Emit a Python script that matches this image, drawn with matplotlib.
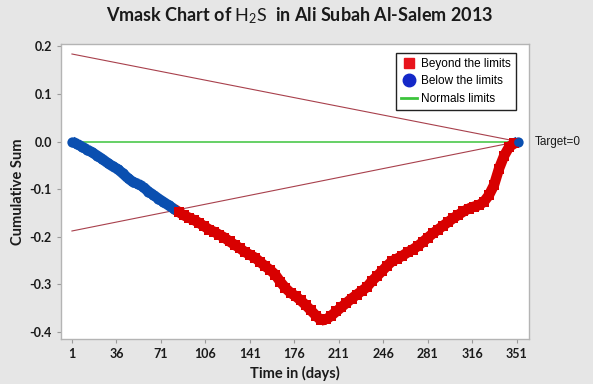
import numpy as np
import matplotlib
matplotlib.use("Agg")
import matplotlib.pyplot as plt
from matplotlib.lines import Line2D
import matplotlib.transforms as mtransforms

# cumulative sum (day, value)
days = [1, 5, 9, 13, 17, 21, 25, 29, 33, 37, 41, 45, 49, 53, 57, 61, 65, 69,
        73, 77, 81, 85, 89, 93, 97, 101, 105, 109, 113, 117, 121, 125, 129,
        133, 137, 141, 145, 149, 153, 157, 161, 165, 169, 173, 177, 181, 185,
        189, 193, 197, 201, 205, 209, 213, 217, 221, 225, 229, 233, 237, 241,
        245, 249, 253, 257, 261, 265, 269, 273, 277, 281, 285, 289, 293, 297,
        301, 305, 309, 313, 317, 321, 325, 329, 333, 337, 341, 345, 349, 352]
cusum = [0.000, -0.005, -0.011, -0.017, -0.023, -0.030, -0.037, -0.045,
         -0.052, -0.058, -0.067, -0.077, -0.085, -0.089, -0.095, -0.105,
         -0.112, -0.120, -0.127, -0.134, -0.141, -0.148, -0.155, -0.160,
         -0.165, -0.171, -0.178, -0.185, -0.190, -0.196, -0.202, -0.210,
         -0.217, -0.224, -0.232, -0.238, -0.244, -0.253, -0.262, -0.270,
         -0.280, -0.295, -0.308, -0.318, -0.325, -0.334, -0.344, -0.355,
         -0.366, -0.376, -0.374, -0.366, -0.357, -0.348, -0.339, -0.330,
         -0.322, -0.314, -0.306, -0.293, -0.283, -0.272, -0.261, -0.251,
         -0.246, -0.240, -0.233, -0.227, -0.220, -0.211, -0.202, -0.193,
         -0.185, -0.177, -0.169, -0.161, -0.154, -0.147, -0.141, -0.137,
         -0.134, -0.127, -0.113, -0.092, -0.057, -0.030, -0.011, -0.004, 0.000]

# V-mask arms: start value at day 1, vertex at last day
mask_days = [1, 352]
upper_arm = [0.184, 0.0]
lower_arm = [-0.188, 0.0]
target = 0.0

xticks = [1, 36, 71, 106, 141, 176, 211, 246, 281, 316, 351]
yticks = [0.2, 0.1, 0.0, -0.1, -0.2, -0.3, -0.4]

blue = "#0a4fb0"
red = "#d80000"
arm_col = "#a8404c"
green = "#3cc43c"
bg = "#e6e6e6"

plt.rcParams["mathtext.fontset"] = "custom"
plt.rcParams["mathtext.rm"] = "Lato"

fig = plt.figure(figsize=(5.93, 3.84), dpi=100, facecolor=bg)
ax = fig.add_axes([0.1029, 0.1172, 0.7892, 0.7682])
ax.set_facecolor("white")

d = np.array(days)
v = np.array(cusum)
low = np.interp(d, mask_days, lower_arm)
beyond = v < low - 1e-9

ax.plot(mask_days, [target, target], color=green, lw=1.1, zorder=2)
ax.plot(mask_days, upper_arm, color=arm_col, lw=0.8, zorder=2)
ax.plot(mask_days, lower_arm, color=arm_col, lw=0.8, zorder=2)

# continuous thick stroke, coloured by segment
for i in range(len(d) - 1):
    c = red if beyond[i + 1] else blue
    ax.plot(d[i:i + 2], v[i:i + 2], color=c, lw=7.5, solid_capstyle="butt", zorder=3)
ax.scatter(d[~beyond], v[~beyond], marker="o", s=55, color=blue, lw=0, zorder=4)
ax.scatter(d[beyond], v[beyond], marker="s", s=55, color=red, lw=0, zorder=4)
ax.scatter(d[-1:], v[-1:], marker="o", s=40, color=blue, lw=0, zorder=5)

ax.set_xlim(-7.6, 360.6)
ax.set_ylim(-0.415, 0.205)
ax.set_xticks(xticks)
ax.set_yticks(yticks)
ax.set_yticklabels([f"{t:.1f}" for t in yticks])
for s in ax.spines.values():
    s.set_color("#b4b4b4")
    s.set_linewidth(1.0)
ax.tick_params(axis="both", colors="#9a9a9a", length=3, width=0.8,
               labelcolor="#1a1a1a", labelsize=9)
for lab in ax.get_xticklabels() + ax.get_yticklabels():
    lab.set_fontfamily("Lato")
    lab.set_fontweight("bold")

ax.set_xlabel("Time in (days)", fontfamily="Lato", fontweight="bold",
              fontsize=10.5, color="#1a1a1a", labelpad=4)
ax.set_ylabel("Cumulative Sum", fontfamily="Lato", fontweight="bold",
              fontsize=10.5, color="#1a1a1a", labelpad=3)

fig.text(0.505, 0.958, r"Vmask Chart of $\mathrm{H_2S}$  in Ali Subah Al-Salem 2013",
         ha="center", va="center", fontfamily="Lato", fontweight="bold",
         fontsize=13, color="#1a1a1a")

trans = mtransforms.blended_transform_factory(ax.transAxes, ax.transData)
ax.text(1.013, target, "Target=0", transform=trans, ha="left", va="center",
        fontfamily="Liberation Sans", fontsize=8.5, color="#1a1a1a", clip_on=False)

handles = [
    Line2D([], [], ls="none", marker="s", ms=7, color="#e8141c"),
    Line2D([], [], ls="none", marker="o", ms=9, color="#1428c8"),
    Line2D([], [], color=green, lw=2),
]
leg = ax.legend(handles, ["Beyond the limits", "Below the limits", "Normals limits"],
                loc="upper right", bbox_to_anchor=(0.985, 0.99), fancybox=False,
                framealpha=1, edgecolor="#222222", handlelength=1.4,
                handletextpad=0.3, borderpad=0.45, labelspacing=0.45,
                prop={"family": "Liberation Sans", "size": 8.5})
leg.get_frame().set_linewidth(1.0)

fig.savefig("out.png", dpi=100, facecolor=bg)
